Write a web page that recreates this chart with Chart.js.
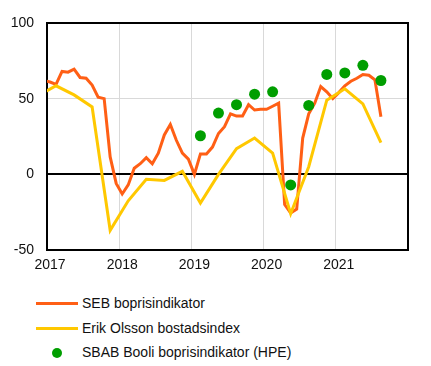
<!DOCTYPE html>
<html>
<head>
<meta charset="utf-8">
<script src="https://cdn.jsdelivr.net/npm/chart.js@4.4.1/dist/chart.umd.min.js"></script>
<style>
  body { margin: 0; background: #fff; font-family: "Liberation Sans", Arial, sans-serif; }
  #wrap { position: absolute; left: 0; top: 0; width: 431px; height: 280px; }
  #legend { position: absolute; left: 0; top: 293px; width: 431px; }
  .row { position: absolute; left: 0; height: 20px; width: 431px; font-size: 14px; color: #111; }
  .row span.txt { position: absolute; left: 82px; top: 2px; white-space: nowrap; }
  .row span.line { position: absolute; left: 36px; top: 9px; width: 42px; height: 3px; }
  .row span.dot { position: absolute; left: 52px; top: 6px; width: 10px; height: 10px; border-radius: 50%; }
</style>
</head>
<body>
<div id="wrap"><canvas id="myChart"></canvas></div>
<div id="legend"></div>
<script>
// SEB boprisindikator, monthly from Dec 2016 to Aug 2021
const sebStart = [2016, 12];
const sebValues = [
  62,
  61, 59.5, 68, 67.5, 69.5, 64, 63.5, 59, 51, 50, 11.5, -6,
  -13, -7, 4, 7, 11, 7, 14, 26, 33, 22.5, 14, 10,
  0, 13.5, 13.5, 18, 27, 31.5, 40, 38.5, 38.5, 46, 42.5, 43,
  43, 45, 47, -20, -25.5, -23, 24, 40, 47, 58, 54.5, 50,
  54, 58.5, 61.5, 63.5, 66, 65.5, 62.5, 38
];

// Erik Olsson bostadsindex, quarterly from Nov 2016
const olssonStart = [2016, 11];
const olssonValues = [52, 58.5, 52.5, 44.5, -37, -17.5, -3.3, -4, 2, -19, 0, 17, 24, 14, -26, 5, 49, 56.5, 46.5, 21];

// SBAB Booli boprisindikator (HPE), quarterly from Feb 2019
const sbabStart = [2019, 2];
const sbabValues = [25.5, 40.5, 46, 53, 54.5, -7, 45.5, 66, 67, 72, 62];

const yTicks = [-50, 0, 50, 100];
const xYears = [2017, 2018, 2019, 2020, 2021, 2022];

const labels = ['SEB boprisindikator', 'Erik Olsson bostadsindex', 'SBAB Booli boprisindikator (HPE)'];
const colors = ['#ff5f15', '#ffc800', '#009e00'];

// month (1-12) placed in the middle of the month on a year axis
function monthPoints(start, step, values) {
    return values.map((v, i) => {
        const m = start[1] - 1 + i * step;
        return {x: start[0] + (m + 0.5) / 12, y: v};
    });
}

const ink = '#111';
const font = {family: '"Liberation Sans", Arial, sans-serif', size: 14};

// black frame round the plot area
const frame = {
    id: 'frame',
    beforeDatasetsDraw(chart) {
        const {ctx, chartArea: a} = chart;
        ctx.save();
        ctx.strokeStyle = '#000';
        ctx.lineWidth = 2;
        ctx.strokeRect(a.left, a.top, a.right - a.left, a.bottom - a.top);
        ctx.restore();
    }
};

const ctx = document.getElementById('myChart').getContext('2d');
const chart = new Chart(ctx, {
    type: 'line',
    data: {
        datasets: [{
            label: labels[0],
            data: monthPoints(sebStart, 1, sebValues),
            borderColor: colors[0],
            backgroundColor: colors[0],
            borderWidth: 3,
            pointRadius: 0,
            order: 2
        }, {
            label: labels[1],
            data: monthPoints(olssonStart, 3, olssonValues),
            borderColor: colors[1],
            backgroundColor: colors[1],
            borderWidth: 3,
            pointRadius: 0,
            order: 1
        }, {
            label: labels[2],
            data: monthPoints(sbabStart, 3, sbabValues),
            borderColor: colors[2],
            backgroundColor: colors[2],
            showLine: false,
            pointRadius: 5.5,
            pointBorderWidth: 0,
            order: 0
        }]
    },
    options: {
        responsive: true,
        maintainAspectRatio: false,
        animation: false,
        layout: {padding: {top: 23, right: 23, left: 0, bottom: 0}},
        plugins: {legend: {display: false}, tooltip: {enabled: false}},
        scales: {
            x: {
                type: 'linear',
                min: xYears[0],
                max: xYears[xYears.length - 1],
                afterBuildTicks: s => { s.ticks = xYears.map(v => ({value: v})); },
                afterFit: s => { s.height = 30; },
                ticks: {
                    font: font, color: ink, padding: 7, labelOffset: 3, maxRotation: 0, autoSkip: false,
                    callback: v => v < 2022 ? String(v) : ''
                },
                grid: {drawTicks: false, color: '#d9d9d9', lineWidth: 1},
                border: {display: false}
            },
            y: {
                min: yTicks[0],
                max: yTicks[yTicks.length - 1],
                afterBuildTicks: s => { s.ticks = yTicks.map(v => ({value: v})); },
                afterFit: s => { s.width = 47; },
                ticks: {font: font, color: ink, padding: 13},
                grid: {
                    drawTicks: false,
                    color: c => (c.tick && c.tick.value === 0) ? '#000' : '#d9d9d9',
                    lineWidth: c => (c.tick && c.tick.value === 0) ? 2 : 1
                },
                border: {display: false}
            }
        }
    },
    plugins: [frame]
});

// legend below the chart, one entry per row
const legend = document.getElementById('legend');
labels.forEach((name, i) => {
    const row = document.createElement('div');
    row.className = 'row';
    row.style.top = (i * 24.7) + 'px';
    const mark = document.createElement('span');
    mark.className = i < 2 ? 'line' : 'dot';
    mark.style.background = colors[i];
    const txt = document.createElement('span');
    txt.className = 'txt';
    txt.textContent = name;
    row.appendChild(mark);
    row.appendChild(txt);
    legend.appendChild(row);
});
</script>
</body>
</html>
